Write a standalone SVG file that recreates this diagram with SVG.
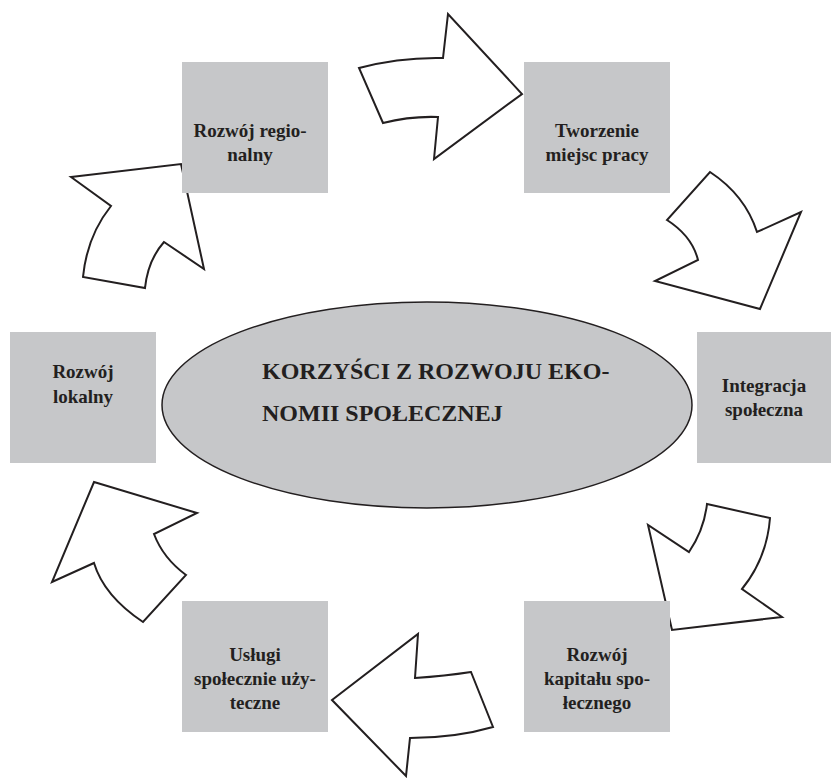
<svg xmlns="http://www.w3.org/2000/svg" width="831" height="778" viewBox="0 0 831 778">
<style>
.box{fill:#c6c7c9;stroke:none}
.arr{fill:#ffffff;stroke:#231f20;stroke-width:2;stroke-linejoin:miter}
.t{font-family:"Liberation Serif","Times New Roman",serif;font-weight:bold;font-size:19px;fill:#231f20;text-anchor:middle}
.c{font-family:"Liberation Serif","Times New Roman",serif;font-weight:bold;font-size:24px;fill:#231f20}
</style>
<rect width="831" height="778" fill="#ffffff"/>
<g id="connectors">
<path class="arr" d="M359,68 Q400,57 443,58 L448,14 L522,94 L434,159 L438,117 Q410,116 383,123 Z"/>
<path class="arr" d="M710,172 Q745,195 757,232 L801,212 L760,309 L655,281 L698,260 Q692,236 667,220 Z"/>
<path class="arr" d="M707,504 L770,518 Q767,558 742,589 L782,617 L672,630 L648,525 L689,552 Q704,530 707,504 Z"/>
<path class="arr" d="M332,700 L418,634 L415,678 Q445,676 471,672 L493,727 Q455,738 410,738 L406,776 Z"/>
<path class="arr" d="M94,482 L197,513 L154,534 Q163,558 186,575 L143,622 Q104,596 94,563 L52,582 Z"/>
<path class="arr" d="M71,177 L181,164 L204,269 L164,242 Q148,260 145,288 L83,277 Q87,236 111,206 Z"/>
</g>
<g id="center">
<ellipse cx="427" cy="405" rx="265" ry="103" fill="#c6c7c9" stroke="#231f20" stroke-width="1.5"/>
<text class="c" x="262" y="379">KORZYŚCI Z ROZWOJU EKO-</text>
<text class="c" x="262" y="421">NOMII SPOŁECZNEJ</text>
</g>
<g id="regionalny">
<rect class="box" x="182" y="62" width="146" height="131"/>
<text class="t" x="250" y="137">Rozwój regio-</text>
<text class="t" x="250" y="161">nalny</text>
</g>
<g id="tworzenie">
<rect class="box" x="524" y="62" width="146" height="131"/>
<text class="t" x="597" y="137">Tworzenie</text>
<text class="t" x="597" y="161">miejsc pracy</text>
</g>
<g id="integracja">
<rect class="box" x="697" y="332" width="146" height="131"/>
<text class="t" x="764" y="392">Integracja</text>
<text class="t" x="764" y="416">społeczna</text>
</g>
<g id="kapital">
<rect class="box" x="524" y="601" width="146" height="131"/>
<text class="t" x="597" y="661">Rozwój</text>
<text class="t" x="597" y="685">kapitału spo-</text>
<text class="t" x="597" y="709">łecznego</text>
</g>
<g id="uslugi">
<rect class="box" x="182" y="601" width="146" height="131"/>
<text class="t" x="255" y="661">Usługi</text>
<text class="t" x="255" y="685">społecznie uży-</text>
<text class="t" x="255" y="709">teczne</text>
</g>
<g id="lokalny">
<rect class="box" x="10" y="332" width="146" height="131"/>
<text class="t" x="83" y="378">Rozwój</text>
<text class="t" x="83" y="403">lokalny</text>
</g>
</svg>
